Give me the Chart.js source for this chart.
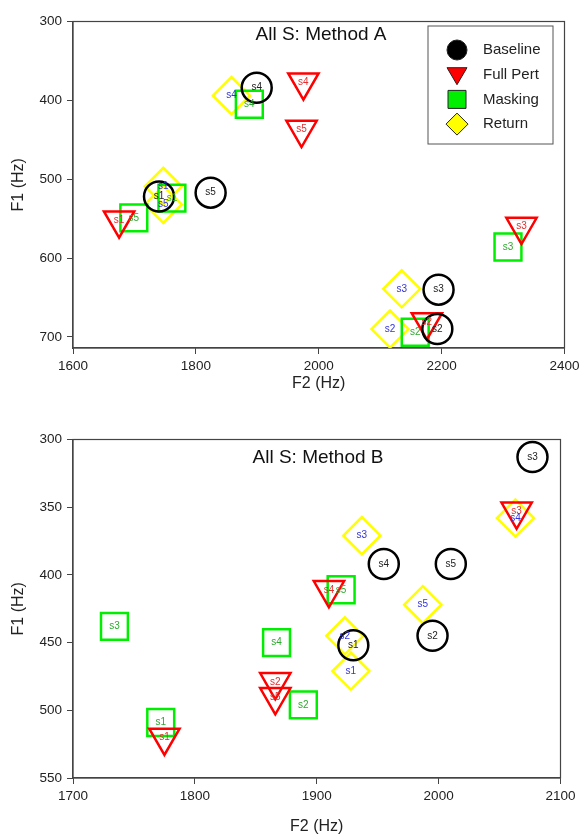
<!DOCTYPE html>
<html>
<head>
<meta charset="utf-8">
<script src="https://cdn.jsdelivr.net/npm/chart.js@4.4.0/dist/chart.umd.min.js"></script>
<style>
  html, body { margin: 0; background: #fff; overflow: hidden; }
  .wrap { position: absolute; left: 0; }
  #wrapA { top: 0; width: 586px; height: 418px; }
  #wrapB { top: 418px; width: 582px; height: 419px; }
</style>
</head>
<body>
<div class="wrap" id="wrapA"><canvas id="chartA" width="586" height="418"></canvas></div>
<div class="wrap" id="wrapB"><canvas id="chartB" width="582" height="419"></canvas></div>
<script>
// ---- data (F2 = x, F1 = y), speakers s1..s5 ----
var seriesNames = ['Baseline', 'Full Pert', 'Masking', 'Return'];
var speakers = ['s1', 's2', 's3', 's4', 's5'];

// Method A
var aBaselineF2 = [1740, 2193, 2195, 1899, 1824];
var aBaselineF1 = [522, 690, 640, 384, 517];
var aFullPertF2 = [1675, 2176, 2330, 1975, 1972];
var aFullPertF1 = [552, 681, 560, 377, 437];
var aMaskingF2 = [1761, 2157, 2308, 1887, 1699];
var aMaskingF1 = [524, 694, 586, 405, 549];
var aReturnF2 = [1747, 2116, 2135, 1858, 1747];
var aReturnF1 = [509, 690, 639, 394, 532];

// Method B
var bBaselineF2 = [1930, 1995, 2077, 1955, 2010];
var bBaselineF1 = [452, 445, 313, 392, 392];
var bFullPertF2 = [1775, 1866, 2064, 1910, 1866];
var bFullPertF1 = [520, 479, 353, 411, 490];
var bMaskingF2 = [1772, 1889, 1734, 1867, 1920];
var bMaskingF1 = [509, 496, 438, 450, 411];
var bReturnF2 = [1928, 1923, 1937, 2063, 1987];
var bReturnF1 = [471, 445, 371, 358, 422];

// tick labels
var aXTicks = [1600, 1800, 2000, 2200, 2400];
var aYTicks = [300, 400, 500, 600, 700];
var bXTicks = [1700, 1800, 1900, 2000, 2100];
var bYTicks = [300, 350, 400, 450, 500, 550];

// ---- styles ----
var FONT = "'Liberation Sans', Arial, sans-serif";
var markColors = ['#000000', '#ff0000', '#00ee00', '#ffff00'];
var fillColors = ['#000000', '#ff0000', '#00ee00', '#ffff00'];
var textColors = ['#222222', '#e03030', '#2fa82f', '#3333dd'];
var pointStyles = ['circle', 'triangle', 'rect', 'rectRot'];
var pointRotations = [0, 180, 0, 0];
var pointRadii = [15, 17.5, 19, 18.5];

function buildSets(xs, ys) {
    return seriesNames.map(function (name, i) {
        return {
            label: name,
            data: xs[i].map(function (x, j) { return { x: x, y: ys[i][j] }; }),
            showLine: false,
            pointStyle: pointStyles[i],
            pointRotation: pointRotations[i],
            pointRadius: pointRadii[i],
            pointHoverRadius: pointRadii[i],
            pointBorderColor: markColors[i],
            pointBackgroundColor: 'rgba(0,0,0,0)',
            pointBorderWidth: 2.5,
            pointHoverBorderWidth: 2.5
        };
    });
}

// labels s1..s5 written inside each marker
var pointLabels = {
    id: 'pointLabels',
    afterDatasetsDraw: function (chart) {
        var ctx = chart.ctx;
        chart.data.datasets.forEach(function (ds, i) {
            var meta = chart.getDatasetMeta(i);
            ctx.save();
            ctx.font = '10px ' + FONT;
            ctx.fillStyle = textColors[i];
            ctx.textAlign = 'center';
            ctx.textBaseline = 'middle';
            meta.data.forEach(function (pt, j) {
                ctx.fillText(speakers[j], pt.x, pt.y);
            });
            ctx.restore();
        });
    }
};

// full box around plot + title inside it
var frameAndTitle = {
    id: 'frameAndTitle',
    beforeDatasetsDraw: function (chart, args, opts) {
        var ctx = chart.ctx, a = chart.chartArea;
        ctx.save();
        ctx.strokeStyle = '#444';
        ctx.lineWidth = 1.2;
        ctx.strokeRect(a.left, a.top, a.right - a.left, a.bottom - a.top);
        ctx.fillStyle = '#111';
        ctx.font = '19px ' + FONT;
        ctx.textAlign = 'center';
        ctx.textBaseline = 'middle';
        ctx.fillText(opts.text, opts.x, opts.y);
        ctx.restore();
    }
};

function drawSymbol(ctx, i, x, y) {
    ctx.beginPath();
    if (i === 0) {
        ctx.arc(x, y, 10, 0, Math.PI * 2);
    } else if (i === 1) {
        ctx.moveTo(x - 10, y - 7);
        ctx.lineTo(x + 10, y - 7);
        ctx.lineTo(x, y + 10);
        ctx.closePath();
    } else if (i === 2) {
        ctx.rect(x - 9, y - 9, 18, 18);
    } else {
        ctx.moveTo(x, y - 11);
        ctx.lineTo(x + 11, y);
        ctx.lineTo(x, y + 11);
        ctx.lineTo(x - 11, y);
        ctx.closePath();
    }
    ctx.fillStyle = fillColors[i];
    ctx.fill();
    ctx.strokeStyle = '#222';
    ctx.lineWidth = 1;
    ctx.stroke();
}

var boxLegend = {
    id: 'boxLegend',
    afterDraw: function (chart, args, opts) {
        if (!opts.show) return;
        var ctx = chart.ctx;
        ctx.save();
        ctx.strokeStyle = '#555';
        ctx.lineWidth = 1;
        ctx.strokeRect(428, 26, 125, 118);
        ctx.font = '15px ' + FONT;
        ctx.textAlign = 'left';
        ctx.textBaseline = 'middle';
        seriesNames.forEach(function (name, i) {
            var y = 50 + i * 24.7;
            drawSymbol(ctx, i, 457, y);
            ctx.fillStyle = '#222';
            ctx.fillText(name, 483, y);
        });
        ctx.restore();
    }
};

function plainTick(v) { return String(v); }

function makeChart(id, cfg) {
    return new Chart(document.getElementById(id), {
        type: 'scatter',
        data: { datasets: buildSets(cfg.xs, cfg.ys) },
        options: {
            responsive: false,
            animation: false,
            events: [],
            layout: { padding: cfg.padding },
            plugins: {
                legend: { display: false },
                tooltip: { enabled: false },
                frameAndTitle: { text: cfg.title, x: cfg.titleX, y: cfg.titleY },
                boxLegend: { show: cfg.legend }
            },
            scales: {
                x: {
                    type: 'linear',
                    min: cfg.xMin, max: cfg.xMax,
                    afterBuildTicks: function (s) { s.ticks = cfg.xTicks.map(function (v) { return { value: v }; }); },
                    afterFit: function (s) { s.height = cfg.xHeight; },
                    grid: { display: true, drawOnChartArea: false, drawTicks: true, tickLength: 6, color: '#444' },
                    border: { display: true, color: '#444', width: 1.2 },
                    ticks: { color: '#222', font: { family: FONT, size: 13.5 }, padding: 4, maxRotation: 0, callback: plainTick },
                    title: { display: true, text: 'F2 (Hz)', color: '#222', font: { family: FONT, size: 16 }, padding: { top: 0, bottom: cfg.xTitlePad } }
                },
                y: {
                    type: 'linear',
                    reverse: true,
                    min: cfg.yMin, max: cfg.yMax,
                    afterBuildTicks: function (s) { s.ticks = cfg.yTicks.map(function (v) { return { value: v }; }); },
                    afterFit: function (s) { s.width = 73; },
                    grid: { display: true, drawOnChartArea: false, drawTicks: true, tickLength: 6, color: '#444' },
                    border: { display: true, color: '#444', width: 1.2 },
                    ticks: { color: '#222', font: { family: FONT, size: 13.5 }, padding: 5, callback: plainTick },
                    title: { display: true, text: 'F1 (Hz)', color: '#222', font: { family: FONT, size: 16 }, padding: { top: 9, bottom: 0 } }
                }
            }
        },
        plugins: [frameAndTitle, pointLabels, boxLegend]
    });
}

makeChart('chartA', {
    xs: [aBaselineF2, aFullPertF2, aMaskingF2, aReturnF2],
    ys: [aBaselineF1, aFullPertF1, aMaskingF1, aReturnF1],
    xMin: 1600, xMax: 2400, yMin: 300, yMax: 714,
    xTicks: aXTicks, yTicks: aYTicks,
    padding: { left: 0, right: 0, top: 14, bottom: 0 },
    xHeight: 70, xTitlePad: 25,
    title: 'All S: Method A', titleX: 321, titleY: 35,
    legend: true
});

makeChart('chartB', {
    xs: [bBaselineF2, bFullPertF2, bMaskingF2, bReturnF2],
    ys: [bBaselineF1, bFullPertF1, bMaskingF1, bReturnF1],
    xMin: 1700, xMax: 2100, yMin: 300, yMax: 550,
    xTicks: bXTicks, yTicks: bYTicks,
    padding: { left: 0, right: 0, top: 20, bottom: 0 },
    xHeight: 59, xTitlePad: 1,
    title: 'All S: Method B', titleX: 318, titleY: 40,
    legend: false
});
</script>
</body>
</html>
